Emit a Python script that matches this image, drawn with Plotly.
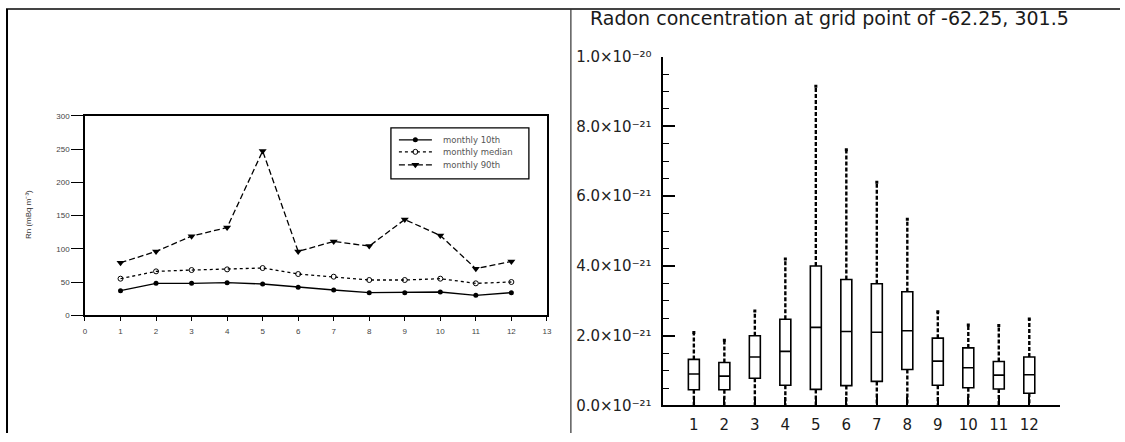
import plotly.graph_objects as go

W, H = 1125, 442

# ---- left chart data (mBq m-3) ----
months = list(range(1, 13))
p10 = [37, 48, 48, 49, 47, 42, 38, 34, 34, 35, 30, 34]
p50 = [55, 66, 68, 69, 71, 62, 58, 53, 53, 55, 48, 50]
p90 = [79, 96, 119, 132, 247, 96, 111, 104, 144, 120, 70, 81]
series_names = ["monthly 10th", "monthly median", "monthly 90th"]
left_xticks = list(range(0, 14))

# ---- right chart data (units of 1e-21) ----
box_lower = [0.0, 0.0, 0.0, 0.0, 0.0, 0.0, 0.0, 0.0, 0.0, 0.0, 0.0, 0.0]
box_q1 = [0.45, 0.45, 0.78, 0.58, 0.46, 0.57, 0.69, 1.03, 0.58, 0.51, 0.47, 0.35]
box_med = [0.90, 0.84, 1.39, 1.55, 2.24, 2.12, 2.10, 2.14, 1.27, 1.08, 0.87, 0.88]
box_q3 = [1.32, 1.23, 2.00, 2.47, 4.00, 3.61, 3.49, 3.26, 1.93, 1.65, 1.26, 1.39]
box_upper = [2.09, 1.87, 2.71, 4.20, 9.15, 7.33, 6.40, 5.34, 2.69, 2.31, 2.29, 2.48]
right_yvals = [0, 2, 4, 6, 8, 10]
right_ylabels = ["0.0×10⁻²¹", "2.0×10⁻²¹", "4.0×10⁻²¹",
                 "6.0×10⁻²¹", "8.0×10⁻²¹", "1.0×10⁻²⁰"]
right_xlabels = [str(m) for m in months]

LFONT = "Liberation Sans, Arial, Helvetica, sans-serif"
RFONT = "DejaVu Sans, Liberation Sans, Arial, sans-serif"


def px(x):
    # reference pixel -> paper fraction (small correction for page rendering)
    xs = x / 0.994 - 2
    return min(max(xs / W, 0), 1)


def py(y):
    # reference pixel -> paper fraction (compensates page offset / vertical scaling)
    ys = y / 0.957 - 9.9
    return min(max(1 - ys / H, 0), 1)


styles = [
    dict(line=dict(color="black", width=1.3),
         marker=dict(symbol="circle", size=5, color="black")),
    dict(line=dict(color="black", width=1.3, dash="dot"),
         marker=dict(symbol="circle-open", size=5, color="black", line=dict(width=1))),
    dict(line=dict(color="black", width=1.3, dash="6px,3px"),
         marker=dict(symbol="triangle-down", size=7, color="black")),
]

fig = go.Figure()

# left chart lines
for name, vals, st in zip(series_names, [p10, p50, p90], styles):
    fig.add_trace(go.Scatter(x=months, y=vals, mode="lines+markers", name=name,
                             line=st["line"], marker=st["marker"], showlegend=False,
                             xaxis="x", yaxis="y"))

# manual legend (compact, like the reference)
leg_y = [0.765, 0.53, 0.275]
for name, st, ly in zip(series_names, styles, leg_y):
    fig.add_trace(go.Scatter(x=[0.058, 0.297], y=[ly, ly], mode="lines", line=st["line"],
                             showlegend=False, xaxis="x3", yaxis="y3", hoverinfo="skip"))
    fig.add_trace(go.Scatter(x=[0.177], y=[ly], mode="markers", marker=st["marker"],
                             showlegend=False, xaxis="x3", yaxis="y3", hoverinfo="skip"))

# right chart whiskers
wx, wy = [], []
for m, lo, q1, q3, up in zip(months, box_lower, box_q1, box_q3, box_upper):
    wx += [m, m, None, m, m, None]
    wy += [q3, up, None, q1, lo, None]
fig.add_trace(go.Scatter(x=wx, y=wy, mode="lines", showlegend=False,
                         line=dict(color="black", width=2.4, dash="4px,2px"),
                         xaxis="x2", yaxis="y2", hoverinfo="skip"))
fig.add_trace(go.Scatter(x=months, y=box_upper, mode="markers", showlegend=False,
                         marker=dict(symbol="square", size=3, color="black"),
                         xaxis="x2", yaxis="y2", hoverinfo="skip"))

fig.add_trace(go.Box(x=months, q1=box_q1, median=box_med, q3=box_q3,
                     lowerfence=box_q1, upperfence=box_q3, width=0.36,
                     line=dict(color="black", width=1.6), fillcolor="white",
                     boxpoints=False, showlegend=False, xaxis="x2", yaxis="y2"))

shapes = [
    dict(type="line", xref="paper", yref="paper", x0=px(6), x1=1, y0=py(3.5), y1=py(3.5),
         line=dict(color="#444", width=2)),
    dict(type="line", xref="paper", yref="paper", x0=px(7), x1=px(7), y0=py(3), y1=0,
         line=dict(color="black", width=2)),
    dict(type="line", xref="paper", yref="paper", x0=px(571), x1=px(571), y0=py(3), y1=0,
         line=dict(color="#333", width=1.2)),
    # legend frame
    dict(type="rect", xref="paper", yref="paper", x0=px(391), x1=px(529), y0=py(179), y1=py(128),
         line=dict(color="black", width=1.3)),
]

annotations = [
    dict(text="Radon concentration at grid point of -62.25, 301.5", xref="paper", yref="paper",
         x=px(830), y=py(18), showarrow=False, xanchor="center", yanchor="middle",
         font=dict(family=RFONT, size=19, color="#1a1a1a")),
    dict(text="Rn (mBq m⁻³)", xref="paper", yref="paper", x=px(28), y=py(215),
         textangle=-90, showarrow=False, xanchor="center", yanchor="middle",
         font=dict(family=LFONT, size=8, color="#333")),
]
for name, ly in zip(series_names, leg_y):
    annotations.append(dict(text=name, xref="x3", yref="y3", x=0.362, y=ly, showarrow=False,
                            xanchor="left", yanchor="middle",
                            font=dict(family=RFONT, size=8.5, color="#555")))

fig.update_layout(
    width=W, height=H, margin=dict(l=0, r=0, t=0, b=0),
    paper_bgcolor="white", plot_bgcolor="rgba(0,0,0,0)",
    font=dict(family=LFONT, color="#333"),
    shapes=shapes, annotations=annotations, showlegend=False,
    xaxis=dict(domain=[px(85), px(547)], range=[0, 13], tickvals=left_xticks,
               showline=True, mirror=True, linecolor="black", linewidth=1.5,
               ticks="outside", ticklen=4, tickcolor="black", showgrid=False, zeroline=False,
               ticklabelstandoff=3,
               tickfont=dict(size=8, color="#444"), anchor="y"),
    yaxis=dict(domain=[py(315), py(116)], range=[0, 300], dtick=50,
               showline=True, mirror=True, linecolor="black", linewidth=1.5,
               ticks="outside", ticklen=12, tickcolor="black", showgrid=False, zeroline=False,
               tickfont=dict(size=8, color="#444"), anchor="x"),
    xaxis2=dict(domain=[px(663.5), px(1060)], range=[0, 13], tickvals=months,
                ticktext=right_xlabels, showline=True, linecolor="black", linewidth=1.5,
                ticks="inside", ticklen=9, tickcolor="black", tickwidth=1.5,
                showgrid=False, zeroline=False, ticklabelstandoff=5,
                tickfont=dict(family=RFONT, size=15, color="#1a1a1a"), anchor="y2"),
    xaxis4=dict(domain=[px(663.5), px(1060)], range=[0, 13], tickvals=[13],
                showticklabels=False, showline=False, overlaying="x2",
                ticks="inside", ticklen=9, tickcolor="black", tickwidth=1.5,
                showgrid=False, zeroline=False, anchor="y2"),
    yaxis2=dict(domain=[py(405), py(57)], range=[0, 10], tickvals=right_yvals,
                ticktext=right_ylabels, showline=True, linecolor="black", linewidth=1.5,
                ticks="inside", ticklen=12, tickcolor="black", tickwidth=1.5,
                minor=dict(dtick=0.5, ticks="inside", ticklen=6, tickcolor="black", tickwidth=1),
                showgrid=False, zeroline=False, ticklabelstandoff=7,
                tickfont=dict(family=RFONT, size=15, color="#222"), anchor="x2"),
    xaxis3=dict(domain=[px(391), px(529)], range=[0, 1], visible=False, fixedrange=True,
                anchor="y3"),
    yaxis3=dict(domain=[py(179), py(128)], range=[0, 1], visible=False, fixedrange=True,
                anchor="x3"),
)

fig.write_html("out.html")
